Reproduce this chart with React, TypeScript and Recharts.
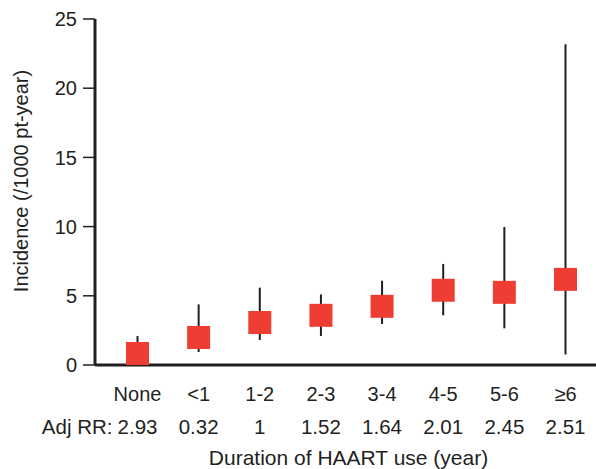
import React from 'react';
import { ComposedChart, Scatter, XAxis, YAxis, ErrorBar, Label } from 'recharts';

const categories = ['None', '<1', '1-2', '2-3', '3-4', '4-5', '5-6', '≥6'];
const adjRR = ['2.93', '0.32', '1', '1.52', '1.64', '2.01', '2.45', '2.51'];
const incidence = [0.83, 1.99, 3.07, 3.59, 4.24, 5.4, 5.25, 6.19];
const ciLow = [0, 0.94, 1.81, 2.1, 2.96, 3.59, 2.65, 0.75];
const ciHigh = [2.1, 4.38, 5.59, 5.1, 6.09, 7.3, 9.97, 23.17];
const yTicks = [0, 5, 10, 15, 20, 25];

const data = categories.map((c, i) => ({
  cat: c,
  rr: adjRR[i],
  value: incidence[i],
  err: [incidence[i] - ciLow[i], ciHigh[i] - incidence[i]],
}));

const FONT = "'Liberation Sans', Arial, sans-serif";
const TEXT = '#231f20';
const RED = '#ee3e33';

const Square = (props: any) => {
  const { cx, cy } = props;
  const s = 23;
  return <rect x={cx - s / 2} y={cy - s / 2} width={s} height={s} fill={RED} />;
};

const XTick = (props: any) => {
  const { x, y, payload, index } = props;
  const rr = adjRR[index];
  return (
    <g>
      <text x={x} y={y + 28} textAnchor="middle" fill={TEXT} fontSize={20} fontFamily={FONT}>
        {payload.value}
      </text>
      <text x={x} y={y + 61} textAnchor="middle" fill={TEXT} fontSize={20.5} fontFamily={FONT}>
        {rr}
      </text>
      {index === 0 && (
        <text x={x - 25} y={y + 61} textAnchor="end" fill={TEXT} fontSize={20.5} fontFamily={FONT}>
          Adj RR:
        </text>
      )}
    </g>
  );
};

const YLabel = (props: any) => {
  const { viewBox } = props;
  const cx = viewBox.x + 28;
  const cy = viewBox.y + viewBox.height / 2 - 11;
  return (
    <text
      x={cx}
      y={cy}
      transform={`rotate(-90 ${cx} ${cy})`}
      textAnchor="middle"
      fill={TEXT}
      fontSize={20}
      fontFamily={FONT}
    >
      Incidence (/1000 pt-year)
    </text>
  );
};

const XLabel = (props: any) => {
  const { viewBox } = props;
  const cx = viewBox.x + viewBox.width / 2 + 3;
  return (
    <text x={cx} y={465} textAnchor="middle" fill={TEXT} fontSize={21} fontFamily={FONT}>
      Duration of HAART use (year)
    </text>
  );
};

export default function App() {
  return (
    <div style={{ position: 'absolute', left: 0, top: 0, background: '#fff' }}>
      <ComposedChart width={596} height={469} data={data} margin={{ top: 19, right: 0, bottom: 0, left: 0 }}>
        <XAxis
          dataKey="cat"
          type="category"
          height={104}
          padding={{ left: 42.5, right: 30.5 }}
          tickLine={false}
          axisLine={{ stroke: TEXT, strokeWidth: 3 }}
          tick={<XTick />}
          interval={0}
        >
          <Label content={<XLabel />} />
        </XAxis>
        <YAxis
          type="number"
          domain={[0, 25]}
          ticks={yTicks}
          width={95}
          tickSize={12}
          tickMargin={6}
          axisLine={{ stroke: TEXT, strokeWidth: 3 }}
          tickLine={{ stroke: TEXT, strokeWidth: 1.5 }}
          tick={{ fill: TEXT, fontSize: 20, fontFamily: FONT }}
        >
          <Label content={<YLabel />} />
        </YAxis>
        <Scatter dataKey="value" shape={<Square />} isAnimationActive={false}>
          <ErrorBar dataKey="err" direction="y" width={0} stroke={TEXT} strokeWidth={2} />
        </Scatter>
      </ComposedChart>
    </div>
  );
}
